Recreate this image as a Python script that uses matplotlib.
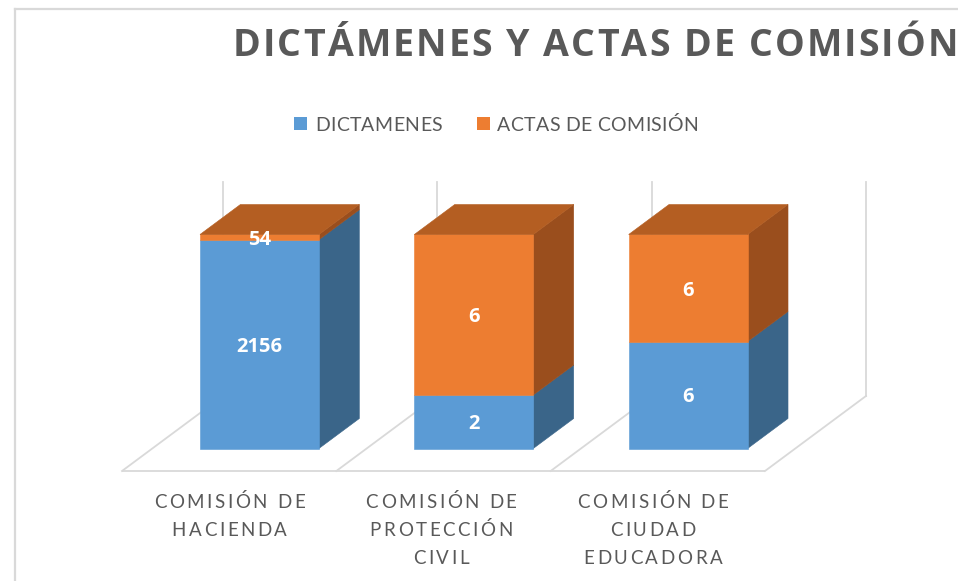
import matplotlib
matplotlib.use('Agg')
import matplotlib.pyplot as plt
from matplotlib.patches import Polygon, Rectangle
from matplotlib.lines import Line2D
from matplotlib.transforms import IdentityTransform
from matplotlib import font_manager as fm
from matplotlib.ft2font import FT2Font
try:
    from matplotlib.ft2font import LoadFlags
    NOHINT = LoadFlags.NO_HINTING
except ImportError:
    from matplotlib.ft2font import LOAD_NO_HINTING as NOHINT

# ---------------- data ----------------
title = "DICTÁMENES Y ACTAS DE COMISIÓN"
series_names = ["DICTAMENES", "ACTAS DE COMISIÓN"]
categories = [["COMISIÓN DE", "HACIENDA"],
              ["COMISIÓN DE", "PROTECCIÓN", "CIVIL"],
              ["COMISIÓN DE", "CIUDAD", "EDUCADORA"]]
dictamenes = [2156, 2, 6]
actas = [54, 6, 6]

# ---------------- style ----------------
front_colors = ["#5B9BD5", "#ED7D31"]
side_colors = ["#3A6589", "#9A4E1D"]
top_colors = ["#3F73A3", "#B45E22"]
grid_color = "#D9D9D9"
text_color = "#595959"

W, H = 958, 581
DPI = 100
fig = plt.figure(figsize=(W / DPI, H / DPI), dpi=DPI)
fig.patch.set_facecolor("white")
ax = fig.add_axes([0, 0, 1, 1])
PX_X = 643 / 3.0
PX_Y = 2.14
X0, Y0 = 122, 471
ax.set_xlim(-X0 / PX_X, (W - X0) / PX_X)
ax.set_ylim(-(H - Y0) / PX_Y, Y0 / PX_Y)
ax.axis("off")

DX = 101 / PX_X     # full floor depth, x units
DY = 75 / PX_Y      # full floor depth, percent units
Z0, Z1 = 0.30, 0.70
BW = 0.555


def proj(x, y, z):
    return (x + z * DX, y + z * DY)


n = len(categories)
# floor and back wall lines
ax.plot([0, n], [0, 0], color=grid_color, lw=1.3, zorder=1, solid_capstyle="butt")
for i in range(n + 1):
    p0 = proj(i, 0, 0)
    p1 = proj(i, 0, 1)
    p2 = proj(i, 100, 1)
    ax.plot([p0[0], p1[0]], [p0[1], p1[1]], color=grid_color, lw=1.3, zorder=1)
    ax.plot([p1[0], p2[0]], [p1[1], p2[1]], color=grid_color, lw=1.3, zorder=1)

# bars (100% stacked)
label_prop = fm.FontProperties(family=["Open Sans", "DejaVu Sans"], weight="bold", size=14.5)
for i in range(n):
    total = dictamenes[i] + actas[i]
    vals = [dictamenes[i], actas[i]]
    xl = i + 0.5 - BW / 2
    xr = i + 0.5 + BW / 2
    bottom = 0.0
    for s, v in enumerate(vals):
        pct = v / total * 100
        top = bottom + pct
        front = [proj(xl, bottom, Z0), proj(xr, bottom, Z0), proj(xr, top, Z0), proj(xl, top, Z0)]
        side = [proj(xr, bottom, Z0), proj(xr, bottom, Z1), proj(xr, top, Z1), proj(xr, top, Z0)]
        ax.add_patch(Polygon(side, closed=True, facecolor=side_colors[s], edgecolor=side_colors[s], lw=0.4, zorder=3))
        ax.add_patch(Polygon(front, closed=True, facecolor=front_colors[s], edgecolor=front_colors[s], lw=0.4, zorder=4))
        lx, ly = proj(i + 0.5, (bottom + top) / 2, Z0)
        ax.text(lx, ly, str(v), ha="center", va="center_baseline", color="white",
                fontproperties=label_prop, zorder=6)
        bottom = top
    topface = [proj(xl, 100, Z0), proj(xr, 100, Z0), proj(xr, 100, Z1), proj(xl, 100, Z1)]
    ax.add_patch(Polygon(topface, closed=True, facecolor=top_colors[1], edgecolor=top_colors[1], lw=0.4, zorder=5))


# ---------------- letter-spaced text helper ----------------
def advances(s, prop):
    f = FT2Font(fm.findfont(prop))
    f.set_size(prop.get_size_in_points(), DPI)
    return [f.load_char(ord(c), flags=NOHINT).linearHoriAdvance / 65536.0 for c in s]


def spaced(x, y_img, s, prop, color, spacing=0.0, width=None, ha="left"):
    adv = advances(s, prop)
    if width is not None and len(s) > 1:
        spacing = (width - sum(adv)) / (len(s) - 1)
    total = sum(adv) + spacing * (len(s) - 1)
    if ha == "center":
        x -= total / 2
    y = H - y_img
    for c, a in zip(s, adv):
        fig.text(x, y, c, fontproperties=prop, color=color, transform=IdentityTransform(),
                 ha="left", va="baseline")
        x += a + spacing
    return spacing


# title
title_prop = fm.FontProperties(family=["Open Sans", "DejaVu Sans"], weight="bold", size=27)
spaced(233, 56, title, title_prop, text_color, width=725)

# legend
leg_prop = fm.FontProperties(family=["Lato", "DejaVu Sans"], weight="normal", size=14)
fig.add_artist(Rectangle((294, H - 130), 13, 13, transform=IdentityTransform(), facecolor=front_colors[0], edgecolor="none"))
fig.add_artist(Rectangle((477, H - 130), 13, 13, transform=IdentityTransform(), facecolor=front_colors[1], edgecolor="none"))
spaced(315, 131, series_names[0], leg_prop, text_color, width=127)
spaced(497, 131, series_names[1], leg_prop, text_color, width=201)

# category labels
cat_prop = fm.FontProperties(family=["Lato", "DejaVu Sans"], weight="normal", size=13.5)
adv_ref = advances("COMISIÓN DE", cat_prop)
cat_spacing = (151 - sum(adv_ref)) / (len("COMISIÓN DE") - 1)
for i, lines in enumerate(categories):
    cx = ax.transData.transform((i + 0.5, 0))[0] - 2.5 * i
    for k, line in enumerate(lines):
        spaced(cx, 508 + 28 * k, line, cat_prop, text_color, spacing=cat_spacing, ha="center")

# outer border
fig.add_artist(Line2D([15, W], [H - 9, H - 9], transform=IdentityTransform(), color=grid_color, lw=1.6))
fig.add_artist(Line2D([15, 15], [0, H - 9], transform=IdentityTransform(), color=grid_color, lw=1.6))

fig.savefig("out.png", dpi=DPI, facecolor="white")
